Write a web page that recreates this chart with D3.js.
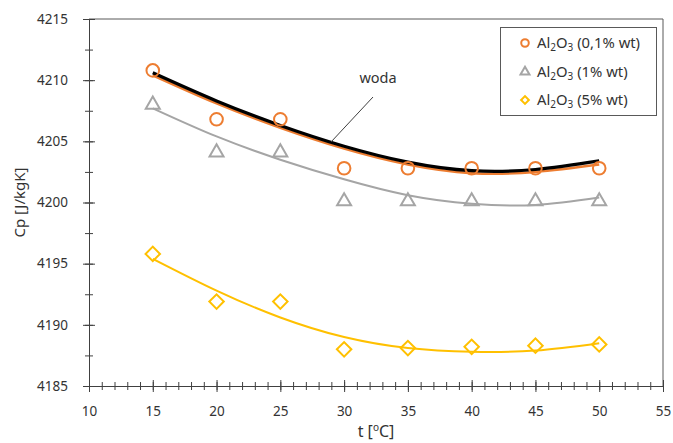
<!DOCTYPE html>
<html><head><meta charset="utf-8">
<script src="https://cdn.jsdelivr.net/npm/d3@7"></script>
<style>body{margin:0;background:#fff}svg{display:block}text{font-family:"Noto Sans",sans-serif}</style>
</head><body><svg id="c" width="673" height="443"></svg>
<script>
const temps = [15, 20, 25, 30, 35, 40, 45, 50];
const cp01 = [4210.8, 4206.8, 4206.8, 4202.8, 4202.8, 4202.8, 4202.8, 4202.8];
const cp1  = [4208.0, 4204.1, 4204.1, 4200.1, 4200.1, 4200.1, 4200.1, 4200.1];
const cp5  = [4195.8, 4191.9, 4191.9, 4188.0, 4188.1, 4188.2, 4188.3, 4188.4];
// trend curves
const trendWater = [4210.6, 4208.3, 4206.3, 4204.6, 4203.3, 4202.6, 4202.7, 4203.4];
const trend01    = [4210.4, 4208.1, 4206.1, 4204.4, 4203.1, 4202.4, 4202.5, 4203.1];
const trend1     = [4207.7, 4205.4, 4203.5, 4201.9, 4200.6, 4199.9, 4199.8, 4200.4];
const trend5     = [4195.4, 4192.8, 4190.6, 4189.0, 4188.1, 4187.8, 4187.9, 4188.5];
const xTicks = [10, 15, 20, 25, 30, 35, 40, 45, 50, 55];
const yTicks = [4185, 4190, 4195, 4200, 4205, 4210, 4215];
const legendLabels = ["0,1% wt", "1% wt", "5% wt"];

const svg = d3.select("#c");
const L = 89, R = 663, T = 19, B = 386;
const x = d3.scaleLinear().domain([10, 55]).range([L, R]);
const y = d3.scaleLinear().domain([4185, 4215]).range([B, T]);
const axisColor = "#404040";

svg.append("line").attr("x1", L).attr("x2", R).attr("y1", T).attr("y2", T).attr("stroke", "#595959");
svg.append("line").attr("x1", R).attr("x2", R).attr("y1", T).attr("y2", B).attr("stroke", "#595959");

const xMinor = d3.range(10, 55.01, 1);
const gxm = svg.append("g").attr("transform", `translate(0,${B})`)
  .call(d3.axisBottom(x).tickValues(xMinor).tickFormat("").tickSizeOuter(0));
gxm.selectAll(".tick line").attr("y1", -4).attr("y2", 4).attr("stroke", axisColor);
gxm.select(".domain").remove();
const gx = svg.append("g").attr("transform", `translate(0,${B})`)
  .call(d3.axisBottom(x).tickValues(xTicks).tickSizeOuter(0).tickPadding(14));
gx.selectAll(".tick line").attr("y1", -6).attr("y2", 6).attr("stroke", axisColor);
gx.select(".domain").attr("stroke", axisColor);
gx.selectAll("text").attr("font-size", 13.5).attr("fill", "#333").attr("font-family", "Noto Sans");

const yMinor = d3.range(4185, 4215.01, 2.5);
const gym = svg.append("g").attr("transform", `translate(${L},0)`)
  .call(d3.axisLeft(y).tickValues(yMinor).tickFormat("").tickSizeOuter(0));
gym.selectAll(".tick line").attr("x1", -4).attr("x2", 4).attr("stroke", axisColor);
gym.select(".domain").remove();
const gy = svg.append("g").attr("transform", `translate(${L},0)`)
  .call(d3.axisLeft(y).tickValues(yTicks).tickSizeOuter(0).tickPadding(15).tickFormat(d3.format("d")));
gy.selectAll(".tick line").attr("x1", -6).attr("x2", 6).attr("stroke", axisColor);
gy.select(".domain").attr("stroke", axisColor);
gy.selectAll("text").attr("font-size", 13.5).attr("fill", "#333").attr("font-family", "Noto Sans");

svg.append("text").attr("transform", `translate(25,${(T + B) / 2}) rotate(-90)`)
  .attr("text-anchor", "middle").attr("font-size", 15).attr("fill", "#333").text("Cp [J/kgK]");
const xt = svg.append("text").attr("x", (L + R) / 2).attr("y", 437).attr("text-anchor", "middle")
  .attr("font-size", 16).attr("fill", "#333");
xt.append("tspan").text("t [");
xt.append("tspan").attr("dy", -6).attr("font-size", 10).text("o");
xt.append("tspan").attr("dy", 6).text("C]");

const line = d3.line().x((d, i) => x(temps[i])).y(d => y(d)).curve(d3.curveNatural);
const colors = { c01: "#ED7D31", c1: "#A5A5A5", c5: "#FFC000" };
svg.append("path").datum(trend5).attr("d", line).attr("fill", "none").attr("stroke", colors.c5).attr("stroke-width", 2);
svg.append("path").datum(trend1).attr("d", line).attr("fill", "none").attr("stroke", colors.c1).attr("stroke-width", 2);
svg.append("path").datum(trend01).attr("d", line).attr("fill", "none").attr("stroke", colors.c01).attr("stroke-width", 2.5);
svg.append("path").datum(trendWater).attr("d", line).attr("fill", "none").attr("stroke", "#000").attr("stroke-width", 3.2);

function markers(data, type, size, col, rot) {
  svg.append("g").selectAll("path").data(data).join("path")
    .attr("transform", (d, i) => `translate(${x(temps[i])},${y(d)}) rotate(${rot})`)
    .attr("d", d3.symbol().type(type).size(size)())
    .attr("fill", "none").attr("stroke", col).attr("stroke-width", 2);
}
markers(cp01, d3.symbolCircle, 125, colors.c01, 0);
markers(cp1, d3.symbolTriangle, 85, colors.c1, 0);
markers(cp5, d3.symbolSquare, 105, colors.c5, 45);

svg.append("line").attr("x1", 373).attr("y1", 97).attr("x2", 331).attr("y2", 142).attr("stroke", "#404040").attr("stroke-width", 1);
svg.append("text").attr("x", 378).attr("y", 83).attr("text-anchor", "middle").attr("font-size", 14.5).attr("fill", "#333").text("woda");

const lg = svg.append("g");
lg.append("rect").attr("x", 500.5).attr("y", 27.5).attr("width", 156).attr("height", 88)
  .attr("fill", "#fff").attr("stroke", "#595959");
const legTypes = [[d3.symbolCircle, colors.c01, 45, 0], [d3.symbolTriangle, colors.c1, 35, 0], [d3.symbolSquare, colors.c5, 30, 45]];
const rowY = [43, 72, 100];
legendLabels.forEach((lab, i) => {
  lg.append("path").attr("transform", `translate(525,${rowY[i]}) rotate(${legTypes[i][3]})`)
    .attr("d", d3.symbol().type(legTypes[i][0]).size(legTypes[i][2])())
    .attr("fill", "none").attr("stroke", legTypes[i][1]).attr("stroke-width", 2);
  const t = lg.append("text").attr("x", 537).attr("y", rowY[i] + 5).attr("font-size", 14.8).attr("fill", "#333");
  t.append("tspan").text("Al");
  t.append("tspan").attr("dy", 3).attr("font-size", 10).text("2");
  t.append("tspan").attr("dy", -3).text("O");
  t.append("tspan").attr("dy", 3).attr("font-size", 10).text("3");
  t.append("tspan").attr("dy", -3).text(" (" + lab + ")");
});
</script></body></html>
